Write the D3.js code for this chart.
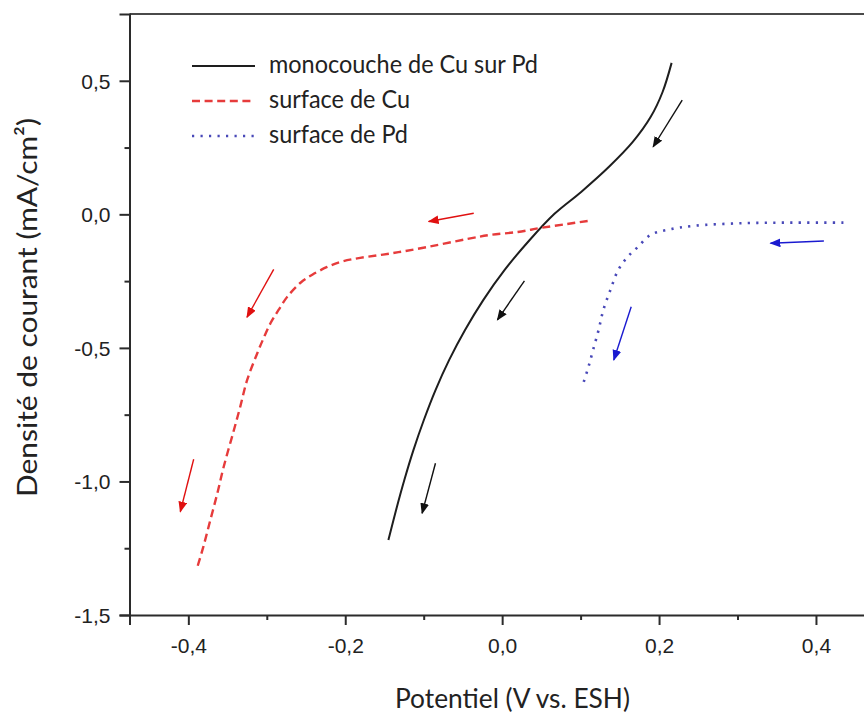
<!DOCTYPE html>
<html>
<head>
<meta charset="utf-8">
<script src="https://cdn.jsdelivr.net/npm/d3@7"></script>
<style>
  html, body { margin: 0; padding: 0; background: #fff; }
  svg { display: block; }
</style>
</head>
<body>
<svg id="chart" width="864" height="716"></svg>
<script>
// Potential (V vs. ESH) / current density (mA/cm²) for each scan
const monoCuPdV = [0.216, 0.2045, 0.1894, 0.1665, 0.1362, 0.1007, 0.0667, 0.0351, 0.0032, -0.0241, -0.0473, -0.0675, -0.0848, -0.0998, -0.1130, -0.1246, -0.1352, -0.145];
const monoCuPdJ = [0.567, 0.458, 0.365, 0.271, 0.178, 0.084, 0.002, -0.096, -0.208, -0.321, -0.433, -0.545, -0.657, -0.770, -0.882, -0.994, -1.107, -1.219];

const cuV = [0.109, 0.083, 0.049, 0.020, -0.015, -0.044, -0.095, -0.139, -0.181, -0.206, -0.223, -0.242, -0.257, -0.274, -0.285, -0.295, -0.304, -0.312, -0.325, -0.334, -0.343, -0.355, -0.363, -0.372, -0.381, -0.389];
const cuJ = [-0.025, -0.036, -0.051, -0.066, -0.077, -0.092, -0.122, -0.145, -0.163, -0.178, -0.197, -0.226, -0.256, -0.309, -0.358, -0.406, -0.463, -0.519, -0.620, -0.722, -0.819, -0.946, -1.044, -1.145, -1.246, -1.325];

const pdV = [0.435, 0.372, 0.308, 0.244, 0.211, 0.189, 0.173, 0.160, 0.148, 0.138, 0.129, 0.123, 0.116, 0.110, 0.104];
const pdJ = [-0.031, -0.031, -0.033, -0.043, -0.058, -0.077, -0.122, -0.159, -0.208, -0.283, -0.358, -0.432, -0.507, -0.571, -0.627];

// Scan-direction arrows: [x0, y0, x1, y1] in data units, pointing to (x1, y1)
const arrowsBlack = [[0.2295, 0.428, 0.1925, 0.253], [0.0284, -0.249, -0.0060, -0.395], [-0.0850, -0.932, -0.1020, -1.119]];
const arrowsRed = [[-0.0362, 0.004, -0.0936, -0.027], [-0.2912, -0.206, -0.3252, -0.385], [-0.3932, -0.917, -0.4102, -1.113]];
const arrowsBlue = [[0.4101, -0.100, 0.3421, -0.108], [0.1645, -0.346, 0.1423, -0.545]];

// Axis ticks
const xMajorTicks = [-0.4, -0.2, 0.0, 0.2, 0.4];
const xTickLabels = ["-0,4", "-0,2", "0,0", "0,2", "0,4"];
const xMinorTicks = [-0.3, -0.1, 0.1, 0.3];
const yMajorTicks = [0.5, 0.0, -0.5, -1.0, -1.5];
const yTickLabels = ["0,5", "0,0", "-0,5", "-1,0", "-1,5"];
const yMinorTicks = [0.25, -0.25, -0.75, -1.25];

const seriesNames = ["monocouche de Cu sur Pd", "surface de Cu", "surface de Pd"];

const svg = d3.select("#chart");
const plotLeft = 129.5, plotRight = 874.8, plotTop = 14, plotBottom = 615;

const x = d3.scaleLinear().domain([-0.475, 0.475]).range([plotLeft, plotRight]);
const y = d3.scaleLinear().domain([-1.5, 0.75]).range([plotBottom, plotTop]);

const axisColor = "#2b2b2b";
const tickFont = "'Liberation Sans', Arial, sans-serif";
const textFont = "Lato, 'Open Sans', sans-serif";

// Frame top edge
svg.append("line")
  .attr("x1", plotLeft).attr("x2", plotRight)
  .attr("y1", y(0.75)).attr("y2", y(0.75))
  .attr("stroke", "#4a4a4a").attr("stroke-width", 2);

// Bottom axis
const gx = svg.append("g").attr("transform", `translate(0,${plotBottom})`);
gx.call(d3.axisBottom(x).tickValues(xMajorTicks).tickSize(10).tickPadding(13)
  .tickFormat((d, i) => xTickLabels[i]));
const gxMinor = svg.append("g").attr("transform", `translate(0,${plotBottom})`);
gxMinor.call(d3.axisBottom(x).tickValues(xMinorTicks).tickSize(5).tickFormat(""));
gxMinor.select(".domain").remove();

// Left axis
const gy = svg.append("g").attr("transform", `translate(${plotLeft},0)`);
gy.call(d3.axisLeft(y).tickValues(yMajorTicks).tickSize(10).tickPadding(9)
  .tickFormat((d, i) => yTickLabels[i]));
const gyMinor = svg.append("g").attr("transform", `translate(${plotLeft},0)`);
gyMinor.call(d3.axisLeft(y).tickValues(yMinorTicks).tickSize(5).tickFormat(""));
gyMinor.select(".domain").remove();

svg.selectAll(".domain").attr("stroke", axisColor).attr("stroke-width", 2);
svg.selectAll(".tick line").attr("stroke", axisColor).attr("stroke-width", 2);
svg.selectAll(".tick text")
  .attr("font-family", tickFont).attr("font-size", 21).attr("fill", "#222");
gy.selectAll(".tick text").attr("dy", "0.35em");

// Axis titles
svg.append("text")
  .attr("x", 395).attr("y", 708)
  .attr("font-family", textFont).attr("font-size", 26).attr("fill", "#222")
  .attr("textLength", 235).attr("lengthAdjust", "spacingAndGlyphs")
  .text("Potentiel (V vs. ESH)");

svg.append("text")
  .attr("transform", "translate(37,497) rotate(-90)")
  .attr("font-family", textFont).attr("font-size", 27).attr("fill", "#222")
  .attr("textLength", 379).attr("lengthAdjust", "spacingAndGlyphs")
  .text("Densité de courant (mA/cm²)");

// Curves
const line = d3.line().x(d => x(d[0])).y(d => y(d[1])).curve(d3.curveCatmullRom.alpha(0.5));
const zip = (a, b) => a.map((v, i) => [v, b[i]]);

const styles = [
  { stroke: "#1e1e1e", width: 2, dash: null },
  { stroke: "#e63b3b", width: 2.4, dash: "8,4.6" },
  { stroke: "#4848b8", width: 2.6, dash: "2.2,6.3" }
];

[zip(monoCuPdV, monoCuPdJ), zip(cuV, cuJ), zip(pdV, pdJ)].forEach((pts, i) => {
  svg.append("path")
    .datum(pts)
    .attr("d", line)
    .attr("fill", "none")
    .attr("stroke", styles[i].stroke)
    .attr("stroke-width", styles[i].width)
    .attr("stroke-dasharray", styles[i].dash);
});

// Arrows
const defs = svg.append("defs");
const arrowSets = [
  { id: "headBlack", color: "#111111", data: arrowsBlack },
  { id: "headRed", color: "#e01010", data: arrowsRed },
  { id: "headBlue", color: "#1a1ad0", data: arrowsBlue }
];
arrowSets.forEach(s => {
  defs.append("marker")
    .attr("id", s.id)
    .attr("viewBox", "0 0 10 8")
    .attr("refX", 9).attr("refY", 4)
    .attr("markerWidth", 11).attr("markerHeight", 9)
    .attr("markerUnits", "userSpaceOnUse")
    .attr("orient", "auto")
    .append("path").attr("d", "M0,0 L10,4 L0,8 Z").attr("fill", s.color);
  svg.append("g").selectAll("line")
    .data(s.data)
    .join("line")
    .attr("x1", d => x(d[0])).attr("y1", d => y(d[1]))
    .attr("x2", d => x(d[2])).attr("y2", d => y(d[3]))
    .attr("stroke", s.color).attr("stroke-width", 1.4)
    .attr("marker-end", `url(#${s.id})`);
});

// Legend
const legend = svg.append("g");
const legendRowY = [66, 101, 136];
const legendTextLen = [269, 141, 139];
seriesNames.forEach((name, i) => {
  legend.append("line")
    .attr("x1", 192).attr("x2", 255)
    .attr("y1", legendRowY[i]).attr("y2", legendRowY[i])
    .attr("stroke", styles[i].stroke)
    .attr("stroke-width", styles[i].width)
    .attr("stroke-dasharray", styles[i].dash);
  legend.append("text")
    .attr("x", 269).attr("y", legendRowY[i] + 7)
    .attr("font-family", textFont).attr("font-size", 25).attr("fill", "#222")
    .attr("textLength", legendTextLen[i]).attr("lengthAdjust", "spacingAndGlyphs")
    .text(name);
});
</script>
</body>
</html>
